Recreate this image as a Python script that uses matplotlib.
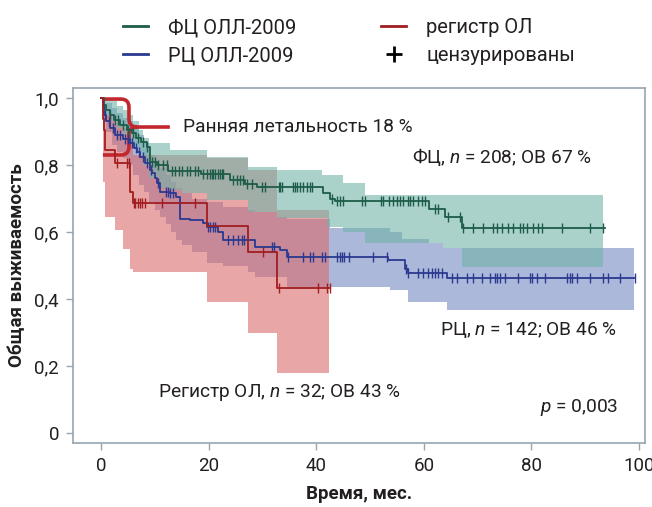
import numpy as np
import matplotlib
matplotlib.use('Agg')
import matplotlib.pyplot as plt
from matplotlib.lines import Line2D
from matplotlib.path import Path
from matplotlib.patches import PathPatch

# --- данные ---
# ФЦ ОЛЛ-2009
fc_t = [0, 0.5, 1, 1.7, 2.5, 3.5, 4.8, 5.7, 6.6, 7.5, 8.5, 9.1, 10.5, 12.5, 18.5, 24, 26.8, 29,
        41.3, 42.5, 43.5, 61, 64, 67, 93.7]
fc_s = [1.0, 0.98, 0.965, 0.95, 0.935, 0.92, 0.905, 0.895, 0.88, 0.87, 0.855, 0.81, 0.80, 0.783,
        0.772, 0.755, 0.742, 0.733, 0.716, 0.70, 0.692, 0.669, 0.645, 0.612, 0.612]
fc_cens = [1.7, 2.6, 3.2, 4.1, 5.0, 5.9, 6.9, 7.8, 8.6, 9.5, 10.0, 10.6, 11.5, 12.3, 13.2, 13.8,
           14.5, 15.0, 16.0, 16.5, 17.5, 18.0, 19.0, 19.7, 20.3, 20.6, 20.8, 21.2, 21.7, 22.1,
           22.5, 22.7, 24.5, 25.3, 25.8, 26.4, 27.1, 28, 30, 30.5, 33, 33.3, 33.6, 35.7, 36,
           36.5, 37, 37.5, 38.3, 38.8, 39.2, 43, 43.8, 44.5, 45, 48.5, 49, 52, 52.5, 53.5, 54.3,
           55, 55.6, 56.2, 57, 57.5, 58, 59, 59.7, 60.2, 62, 62.6, 64.5, 66.7, 67.3, 69.1, 71,
           72.9, 73.6, 74.5, 75.6, 76.6, 77.9, 78.4, 79.2, 80.3, 81.2, 82, 85.7, 90.9, 93.3]
fc_band_t = [0, 1, 2, 3, 4, 5, 6, 7, 7.8, 9, 11, 12.8, 15, 19.7, 27.3, 32.7, 41, 42, 45, 49,
             63.6, 67, 93.3]
fc_band_hi = [1.0, 0.995, 0.99, 0.975, 0.965, 0.95, 0.93, 0.905, 0.88, 0.866, 0.866, 0.845,
              0.845, 0.824, 0.794, 0.785, 0.77, 0.77, 0.746, 0.71, 0.71, 0.71, 0.71]
fc_band_lo = [1.0, 0.95, 0.93, 0.91, 0.89, 0.87, 0.85, 0.83, 0.80, 0.76, 0.73, 0.725, 0.716,
              0.695, 0.66, 0.642, 0.642, 0.615, 0.60, 0.567, 0.552, 0.496, 0.496]

# РЦ ОЛЛ-2009
rc_t = [0, 0.3, 0.6, 1.0, 1.7, 2.6, 4.1, 5.4, 6.2, 6.7, 7.2, 8.2, 9.1, 9.5, 10.0, 10.4, 11.0,
        12.8, 14.0, 14.7, 16.5, 19.0, 19.7, 21.8, 22.7, 28.6, 33.3, 34.6, 53.3, 56.5, 57.0,
        64.3, 99.3]
rc_s = [1.0, 0.975, 0.95, 0.93, 0.91, 0.89, 0.878, 0.866, 0.85, 0.84, 0.824, 0.806, 0.785,
        0.776, 0.76, 0.746, 0.72, 0.716, 0.705, 0.64, 0.636, 0.627, 0.614, 0.60, 0.576, 0.556,
        0.546, 0.526, 0.516, 0.49, 0.478, 0.462, 0.462]
rc_cens = [0.8, 1.5, 2.2, 3.0, 3.6, 4.4, 5.0, 5.8, 6.5, 7.0, 7.8, 8.6, 9.3, 10.6, 12.0, 12.5,
           12.9, 13.4, 19.9, 20.3, 20.8, 21.2, 23.6, 24.5, 25.5, 26.2, 26.5, 31.8, 32.1, 34.8,
           37.5, 38.8, 39.4, 41.1, 41.6, 43.8, 44.4, 44.8, 45.1, 46.0, 50.6, 53.2, 56.7, 57.1,
           58.9, 59.9, 60.8, 61.5, 62.1, 62.6, 63.3, 65.2, 66.2, 68, 69.1, 70.8, 72.3, 73.2,
           73.6, 74.2, 75.1, 77.5, 79.7, 80.1, 81, 82.5, 86.6, 87.2, 87.5, 88.5, 90.9, 93.3,
           94.2, 96.5, 99.3]
rc_band_t = [0, 0.5, 1, 2, 3, 4, 5, 6, 7, 8, 9, 10, 11, 12, 13, 14, 15, 17, 19.7, 22.7, 27.3,
             28.6, 32.7, 34.6, 42.6, 53.7, 56, 57, 61, 63.6, 64.3, 99.0]
rc_band_hi = [1.0, 0.995, 0.985, 0.97, 0.955, 0.94, 0.93, 0.91, 0.89, 0.865, 0.83, 0.81, 0.79,
              0.77, 0.75, 0.73, 0.715, 0.70, 0.69, 0.675, 0.665, 0.66, 0.645, 0.64, 0.612, 0.60,
              0.58, 0.58, 0.567, 0.552, 0.552, 0.552]
rc_band_lo = [1.0, 0.93, 0.90, 0.86, 0.84, 0.82, 0.80, 0.77, 0.74, 0.72, 0.69, 0.665, 0.645,
              0.625, 0.60, 0.576, 0.56, 0.54, 0.507, 0.50, 0.48, 0.466, 0.466, 0.436, 0.435,
              0.428, 0.428, 0.39, 0.39, 0.39, 0.367, 0.367]

# регистр ОЛ
reg_t = [0, 0.4, 0.6, 0.75, 2.6, 5.4, 5.9, 19.7, 27.3, 32.7, 42.6]
reg_s = [1.0, 0.938, 0.906, 0.844, 0.806, 0.72, 0.686, 0.618, 0.54, 0.433, 0.433]
reg_cens = [3.0, 4.8, 5.2, 6.1, 6.3, 6.9, 7.2, 7.6, 8.2, 11.3, 17.5, 30.2, 33.0, 40.3, 42.0, 42.6]
reg_band_t = [0, 0.4, 0.75, 2, 2.6, 4, 5.4, 6, 19.7, 27.3, 32.7, 42.3]
reg_band_hi = [1.0, 0.98, 0.95, 0.93, 0.92, 0.91, 0.88, 0.83, 0.82, 0.785, 0.666, 0.666]
reg_band_lo = [1.0, 0.75, 0.645, 0.645, 0.606, 0.55, 0.49, 0.48, 0.39, 0.298, 0.18, 0.18]

early_death = 18  # %

x_ticks = [0, 20, 40, 60, 80, 100]
y_ticks = [0, 0.2, 0.4, 0.6, 0.8, 1.0]
y_tick_labels = ['0', '0,2', '0,4', '0,6', '0,8', '1,0']

plt.rcParams['font.family'] = ['Roboto', 'DejaVu Sans']
plt.rcParams['mathtext.fontset'] = 'custom'
plt.rcParams['mathtext.rm'] = 'Roboto'
plt.rcParams['mathtext.it'] = 'Roboto:italic'

green = '#1d5c48'
blue = '#2b3990'
red = '#a11d21'
grey = '#96a5b0'
txt = '#231f20'


def step_at(t, s, x):
    idx = np.searchsorted(t, x, side='right') - 1
    return np.asarray(s)[idx]


fig = plt.figure(figsize=(6.52, 5.07), dpi=100)
ax = fig.add_axes([73 / 652, 1 - 443 / 507, (645 - 73) / 652, (443 - 88) / 507])

# доверительные интервалы
ax.fill_between(rc_band_t, rc_band_lo, rc_band_hi, step='post', color='#7389c0', alpha=0.6, lw=0)
ax.fill_between(reg_band_t, reg_band_lo, reg_band_hi, step='post', color='#da6b6b', alpha=0.6, lw=0)
ax.fill_between(fc_band_t, fc_band_lo, fc_band_hi, step='post', color='#72b4a9', alpha=0.6, lw=0)

# кривые и цензурированные
for t, s, c, col in [(rc_t, rc_s, rc_cens, blue), (fc_t, fc_s, fc_cens, green),
                     (reg_t, reg_s, reg_cens, red)]:
    ax.step(t, s, where='post', color=col, lw=1.3)
    ax.plot(c, step_at(t, s, c), ls='none', marker='|', ms=7, mew=1.0, color=col)

# скобка ранней летальности
x0, x1, tip = 0.37, 5.2, 12.8
top, bot = 0.997, 1 - early_death / 100 + 0.01
mid = (top + bot) / 2
rx, ry = 1.5, 0.024
verts = [(x0, top), (x1 - rx, top), (x1, top), (x1, top - ry), (x1, mid + ry),
         (x1, mid), (x1 + rx, mid), (tip, mid),
         (x1 + rx, mid), (x1, mid), (x1, mid - ry), (x1, bot + ry), (x1, bot),
         (x1 - rx, bot), (x0, bot)]
codes = [Path.MOVETO, Path.LINETO, Path.CURVE3, Path.CURVE3, Path.LINETO,
         Path.CURVE3, Path.CURVE3, Path.LINETO,
         Path.MOVETO, Path.CURVE3, Path.CURVE3, Path.LINETO, Path.CURVE3, Path.CURVE3,
         Path.LINETO]
ax.add_patch(PathPatch(Path(verts, codes), fill=False, lw=2.6, edgecolor='#c1272d',
                       capstyle='butt', joinstyle='round'))

fs = 13.8
ax.text(15.2, mid, 'Ранняя летальность %d %%' % early_death, fontsize=fs, color=txt, va='center')
ax.text(57.8, 0.824, 'ФЦ, $n$ = 208; ОВ 67 %', fontsize=fs, color=txt, va='center')
ax.text(63.0, 0.307, 'РЦ, $n$ = 142; ОВ 46 %', fontsize=fs, color=txt, va='center')
ax.text(10.6, 0.122, 'Регистр ОЛ, $n$ = 32; ОВ 43 %', fontsize=fs, color=txt, va='center')
ax.text(81.6, 0.075, '$p$ = 0,003', fontsize=fs, color=txt, va='center')

ax.set_xlim(-5.2, 101.1)
ax.set_ylim(-0.03, 1.03)
ax.set_xticks(x_ticks)
ax.set_yticks(y_ticks)
ax.set_yticklabels(y_tick_labels)
ax.tick_params(length=5, width=1, color=grey, labelcolor=txt, labelsize=13.5, pad=5)
for sp in ax.spines.values():
    sp.set_color(grey)
    sp.set_linewidth(1.2)

ax.set_xlabel('Время, мес.', fontsize=13.5, fontweight='bold', color=txt, labelpad=7)
ax.set_ylabel('Общая выживаемость', fontsize=13.5, fontweight='bold', color=txt, labelpad=6)

handles = [Line2D([], [], color=green, lw=2), Line2D([], [], color=blue, lw=2),
           Line2D([], [], color=red, lw=2),
           Line2D([], [], ls='none', marker='+', ms=12, mew=2, color='black')]
labels = ['ФЦ ОЛЛ-2009', 'РЦ ОЛЛ-2009', 'регистр ОЛ', 'цензурированы']
fig.legend(handles, labels, ncol=2, loc='upper center', bbox_to_anchor=(0.535, 1.0),
           frameon=False, fontsize=14.5, handlelength=1.25, handletextpad=1.0,
           columnspacing=4.2, labelspacing=0.45, labelcolor=txt)

fig.savefig('out.png', dpi=100)
